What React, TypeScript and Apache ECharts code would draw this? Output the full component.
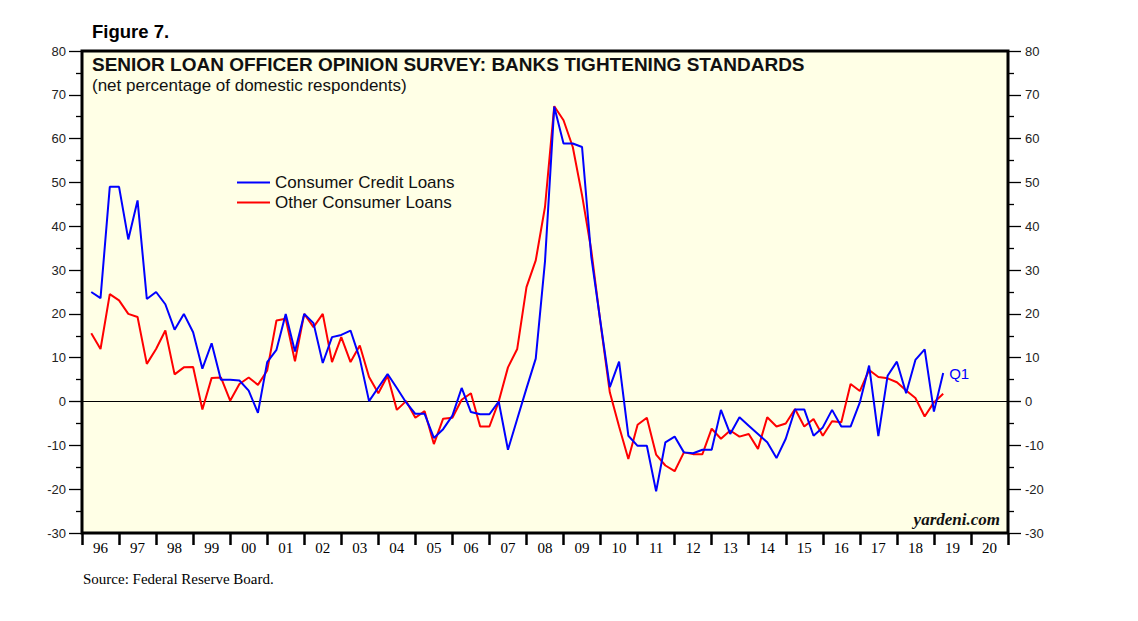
import React, { useEffect, useRef } from "react";
import * as echarts from "echarts";

// Quarterly survey values, 1996 Q1 .. 2019 Q1
const consumerCredit: number[] = [
  25.0, 23.6, 49.0, 49.0, 37.0, 45.9, 23.4, 25.0, 22.2, 16.4, 20.0, 15.8,
  7.5, 13.3, 5.0, 5.0, 4.8, 2.5, -2.6, 9.0, 11.8, 20.0, 11.4, 20.0,
  17.9, 8.8, 14.7, 15.2, 16.2, 9.8, 0.1, 3.2, 6.3, 3.1, -0.2, -2.8,
  -2.8, -8.3, -6.3, -3.2, 3.1, -2.4, -2.9, -2.9, 0.0, -11.0, -4.0, 3.0,
  9.8, 32.0, 67.3, 58.9, 58.9, 58.1, 33.0, 18.0, 3.3, 9.1, -7.8, -10.1,
  -10.1, -20.5, -9.3, -8.0, -11.6, -11.8, -11.0, -11.0, -1.9, -7.4, -3.6, -5.5,
  -7.4, -9.3, -12.9, -8.5, -1.8, -1.8, -7.8, -5.9, -1.9, -5.7, -5.7, -0.2,
  8.2, -7.9, 5.9, 9.1, 1.9, 9.5, 11.9, -2.3, 6.5,
];
const otherConsumer: number[] = [
  15.6, 12.0, 24.5, 23.1, 20.0, 19.3, 8.6, 12.0, 16.2, 6.2, 7.8, 7.9,
  -1.8, 5.4, 5.5, 0.2, 4.0, 5.5, 3.8, 7.1, 18.5, 18.9, 9.2, 20.0,
  17.0, 20.0, 9.0, 14.7, 9.0, 12.8, 5.6, 1.9, 5.9, -1.9, 0.1, -3.7,
  -2.2, -9.7, -3.9, -3.7, 0.4, 1.9, -5.7, -5.7, 0.0, 7.8, 12.0, 26.1,
  32.2, 44.4, 67.4, 64.2, 58.1, 47.1, 34.5, 17.8, 2.1, -5.7, -13.1, -5.3,
  -3.7, -12.1, -14.6, -15.9, -11.6, -12.0, -12.0, -6.2, -8.5, -6.6, -8.0, -7.4,
  -10.8, -3.6, -5.7, -5.0, -1.7, -5.7, -4.0, -7.8, -4.5, -4.7, 4.0, 2.4,
  7.2, 5.6, 5.3, 4.4, 2.5, 0.8, -3.4, -0.2, 1.8,
];
const yearLabels: string[] = [
  "96", "97", "98", "99", "00", "01", "02", "03", "04", "05", "06", "07", "08",
  "09", "10", "11", "12", "13", "14", "15", "16", "17", "18", "19", "20",
];
const startYear = 1996;
const seriesNames = ["Consumer Credit Loans", "Other Consumer Loans"];

const toPoints = (vals: number[]) =>
  vals.map((v, i) => [startYear + (i + 1) / 4, v]);

export default function App() {
  const ref = useRef<HTMLDivElement>(null);
  useEffect(() => {
    if (!ref.current) return;
    const chart = echarts.init(ref.current, null, { renderer: "svg" });
    const sans = "Liberation Sans, Arial, sans-serif";
    const serif = "Liberation Serif, Times New Roman, serif";
    const yAxisBase = {
      type: "value",
      min: -30,
      max: 80,
      interval: 10,
      splitLine: { show: false },
      axisLine: { show: false },
      axisTick: { show: true, length: 13, lineStyle: { color: "#000", width: 1.3 } },
      minorTick: { show: true, splitNumber: 2, length: 6, lineStyle: { color: "#000", width: 1.3 } },
    };
    chart.setOption({
      animation: false,
      backgroundColor: "#fff",
      grid: {
        left: 82,
        right: 130,
        top: 51,
        bottom: 88,
        show: true,
        backgroundColor: "#FFFFE6",
        borderColor: "#000",
        borderWidth: 3,
        z: 0,
      },
      legend: {
        orient: "vertical",
        left: 237,
        top: 174,
        padding: 0,
        itemWidth: 33,
        itemHeight: 2,
        itemGap: 3,
        textStyle: { fontFamily: sans, fontSize: 17, color: "#111" },
        data: seriesNames.map((n) => ({ name: n, icon: "rect" })),
      },
      xAxis: [
        {
          type: "category",
          data: yearLabels,
          boundaryGap: true,
          axisLine: { show: false, onZero: false },
          axisTick: { show: true, length: 12, lineStyle: { color: "#000", width: 2.5 } },
          axisLabel: { fontFamily: serif, fontSize: 15, color: "#000", margin: 7 },
          splitLine: { show: false },
        },
        {
          type: "value",
          min: startYear,
          max: startYear + yearLabels.length,
          show: false,
        },
      ],
      yAxis: [
        {
          ...yAxisBase,
          position: "left",
          axisLabel: { color: "#222", fontFamily: sans, fontSize: 13, margin: 16 },
        },
        {
          ...yAxisBase,
          position: "right",
          axisLabel: { color: "#222", fontFamily: sans, fontSize: 13, margin: 17 },
        },
      ],
      series: [
        {
          name: seriesNames[0],
          type: "line",
          xAxisIndex: 1,
          yAxisIndex: 0,
          data: toPoints(consumerCredit),
          symbol: "none",
          lineStyle: { color: "#0000FF", width: 2 },
          itemStyle: { color: "#0000FF" },
          z: 4,
          endLabel: {
            show: true,
            formatter: "Q1",
            color: "#0000FF",
            fontFamily: sans,
            fontSize: 15,
            distance: 6,
          },
          markLine: {
            silent: true,
            symbol: "none",
            label: { show: false },
            lineStyle: { color: "#000", width: 1.2, type: "solid" },
            data: [{ yAxis: 0 }],
            z: 1,
          },
        },
        {
          name: seriesNames[1],
          type: "line",
          xAxisIndex: 1,
          yAxisIndex: 0,
          data: toPoints(otherConsumer),
          symbol: "none",
          lineStyle: { color: "#FF0000", width: 2 },
          itemStyle: { color: "#FF0000" },
          z: 3,
        },
      ],
      graphic: [
        {
          type: "text",
          left: 92,
          top: 22,
          style: { text: "Figure 7.", font: `bold 18.5px ${sans}`, fill: "#000" },
        },
        {
          type: "text",
          left: 92,
          top: 55,
          style: {
            text: "SENIOR LOAN OFFICER OPINION SURVEY: BANKS TIGHTENING STANDARDS",
            font: `bold 19px ${sans}`,
            fill: "#111",
          },
        },
        {
          type: "text",
          left: 92,
          top: 77,
          style: {
            text: "(net percentage of domestic respondents)",
            font: `17px ${sans}`,
            fill: "#111",
          },
        },
        {
          type: "text",
          right: 138,
          top: 511,
          style: {
            text: "yardeni.com",
            font: `italic bold 17px ${serif}`,
            fill: "#111",
          },
        },
        {
          type: "text",
          left: 83,
          top: 571,
          style: {
            text: "Source: Federal Reserve Board.",
            font: `15px ${serif}`,
            fill: "#000",
          },
        },
      ],
    });
    return () => chart.dispose();
  }, []);
  return (
    <div
      ref={ref}
      style={{ position: "fixed", left: 0, top: 0, width: 1138, height: 621 }}
    />
  );
}
